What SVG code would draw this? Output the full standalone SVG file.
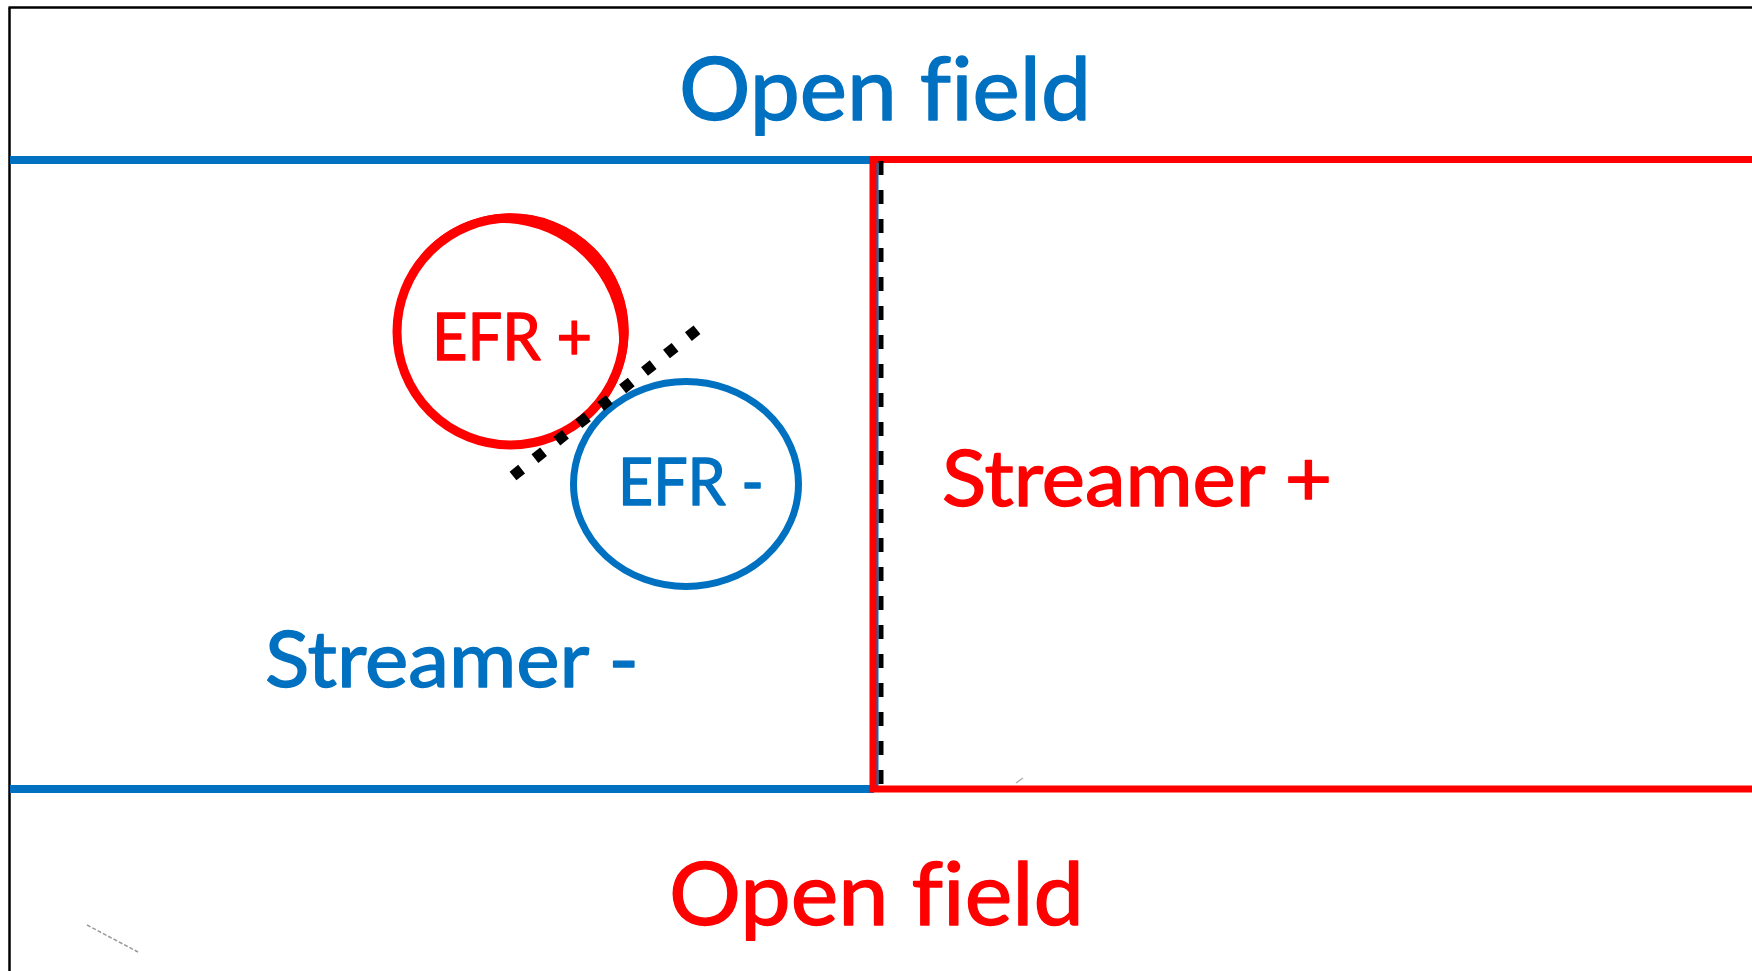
<svg xmlns="http://www.w3.org/2000/svg" width="1752" height="971" viewBox="0 0 1752 971">
  <style>
    .lbl { font-family: Lato, "Open Sans", "Liberation Sans", sans-serif; font-variant-ligatures: none; stroke-width: 1.4; stroke-linejoin: round; }
    .blue { fill: #0070C0; }
    .red { fill: #FF0000; }
    text.blue { stroke: #0070C0; }
    text.red { stroke: #FF0000; }
    .bline { stroke: #0070C0; fill: none; }
    .rline { stroke: #FF0000; fill: none; }
  </style>
  <rect width="1752" height="971" fill="#ffffff"/>

  <!-- outer frame (top and left edges) -->
  <g id="frame" stroke="#000" stroke-width="2.5" fill="none">
    <line x1="8.5" y1="7.5" x2="1752" y2="7.5"/>
    <line x1="9.5" y1="7.5" x2="9.5" y2="971"/>
  </g>

  <!-- negative streamer channel: blue boundaries -->
  <g id="streamer-minus-region">
    <line class="bline" x1="10" y1="160" x2="874" y2="160" stroke-width="8"/>
    <line class="bline" x1="10" y1="789" x2="874" y2="789" stroke-width="8"/>
    <line class="bline" x1="876" y1="160" x2="876" y2="790" stroke-width="5"/>
  </g>

  <!-- positive streamer channel: red open-ended box -->
  <g id="streamer-plus-region">
    <polyline class="rline" points="1752,159.5 873,159.5 873,789 1752,789" stroke-width="7"/>
  </g>

  <!-- dashed interface between the two channels -->
  <g id="connectors">
    <line x1="881" y1="161" x2="881" y2="789" stroke="#000" stroke-width="5" stroke-dasharray="14 15"/>
  </g>

  <!-- EFR + : red ring with thickened upper-right rim -->
  <g id="efr-plus">
    <circle class="rline" cx="510.5" cy="331.5" r="113.5" stroke-width="9"/>
    <path class="red" d="M422.6,252.8 A118,118 0 1 1 589.2,419.4 A118,118 0 0 0 422.6,252.8 Z"/>
    <text class="lbl red" x="432" y="360" font-size="66" textLength="160" lengthAdjust="spacingAndGlyphs">EFR +</text>
  </g>

  <!-- EFR - : blue ellipse -->
  <g id="efr-minus">
    <ellipse class="bline" cx="686" cy="484" rx="112.5" ry="102.5" stroke-width="7"/>
    <text class="lbl blue" x="618" y="505" font-size="66" textLength="146" lengthAdjust="spacingAndGlyphs">EFR -</text>
  </g>

  <!-- dotted separation between the two EFRs -->
  <g id="efr-separator">
    <line x1="513" y1="476" x2="698" y2="329" stroke="#000" stroke-width="11" stroke-dasharray="11 17"/>
  </g>

  <!-- region labels -->
  <g id="labels">
    <text id="open-field-top" class="lbl blue" x="679" y="120" font-size="87" textLength="412" lengthAdjust="spacingAndGlyphs">Open field</text>
    <text id="open-field-bottom" class="lbl red" x="669" y="925" font-size="88" textLength="415" lengthAdjust="spacingAndGlyphs">Open field</text>
    <text id="streamer-plus" class="lbl red" x="942" y="506" font-size="78" textLength="390" lengthAdjust="spacingAndGlyphs">Streamer +</text>
    <text id="streamer-minus" class="lbl blue" x="265" y="687" font-size="78" textLength="374" lengthAdjust="spacingAndGlyphs">Streamer -</text>
  </g>

  <!-- faint stray marks -->
  <g id="marks" stroke="#9a9a9a" stroke-width="1.5" fill="none">
    <line x1="87" y1="925" x2="138" y2="952" stroke-dasharray="4 2"/>
    <line x1="1016" y1="783" x2="1023" y2="778" stroke="#b0b0b0"/>
  </g>
</svg>
